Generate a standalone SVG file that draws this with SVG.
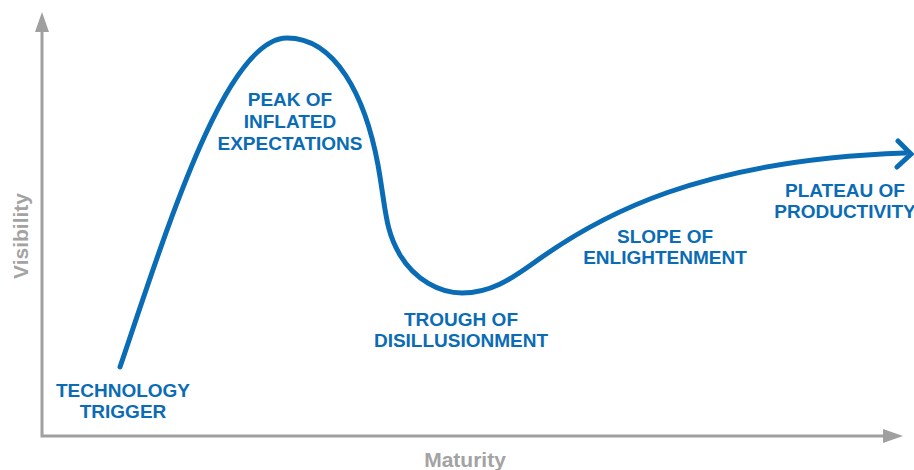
<svg xmlns="http://www.w3.org/2000/svg" width="914" height="470" viewBox="0 0 914 470">
  <style>
    .axis { stroke: #a0a0a0; stroke-width: 3; fill: none; }
    .axis-head { fill: #a0a0a0; }
    .axis-label { font-family: "Liberation Sans", Arial, sans-serif; font-weight: bold; font-size: 21px; fill: #a3a3a3; text-anchor: middle; }
    .curve { stroke: #0a6cb5; stroke-width: 5; fill: none; stroke-linecap: round; }
    .phase { font-family: "Liberation Sans", Arial, sans-serif; font-weight: bold; font-size: 19px; fill: #0a6cb5; text-anchor: middle; }
  </style>

  <!-- axes -->
  <g id="axes">
    <polyline class="axis" points="42,30 42,436 885,436"/>
    <polygon class="axis-head" points="42,12 35,32 49,32"/>
    <polygon class="axis-head" points="903,436 883,429 883,443"/>
    <text class="axis-label" transform="translate(28,236) rotate(-90)">Visibility</text>
    <text class="axis-label" x="465" y="467">Maturity</text>
  </g>

  <!-- hype curve -->
  <g id="connectors">
    <path class="curve" d="M120,367 C165,235 225,38 287,38 C335,38 365,95 378,165 C386,210 385,230 400,255 C415,280 440,293 462,293 C490,293 510,280 535,262 C600,215 700,160 905,153"/>
    <polyline class="curve" points="898,141 911,154 897,167" stroke-linejoin="miter" stroke-linecap="butt"/>
  </g>

  <!-- phase labels -->
  <g id="technology-trigger">
    <text class="phase" x="123" y="397">TECHNOLOGY</text>
    <text class="phase" x="123" y="418">TRIGGER</text>
  </g>
  <g id="peak-of-inflated-expectations">
    <text class="phase" x="290" y="106">PEAK OF</text>
    <text class="phase" x="290" y="128">INFLATED</text>
    <text class="phase" x="290" y="150">EXPECTATIONS</text>
  </g>
  <g id="trough-of-disillusionment">
    <text class="phase" x="461" y="326">TROUGH OF</text>
    <text class="phase" x="461" y="347">DISILLUSIONMENT</text>
  </g>
  <g id="slope-of-enlightenment">
    <text class="phase" x="665" y="243">SLOPE OF</text>
    <text class="phase" x="665" y="264">ENLIGHTENMENT</text>
  </g>
  <g id="plateau-of-productivity">
    <text class="phase" x="845" y="197">PLATEAU OF</text>
    <text class="phase" x="845" y="218">PRODUCTIVITY</text>
  </g>
</svg>
